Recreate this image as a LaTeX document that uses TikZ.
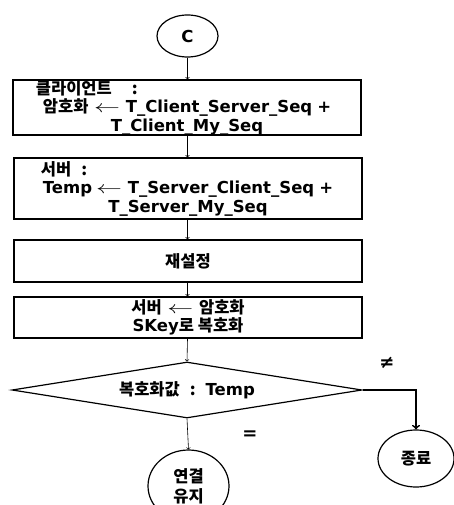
\documentclass[tikz,border=0pt]{standalone}
\usepackage{fontspec}
\usepackage{calc}
\setmainfont{DejaVu Sans}
\newfontfamily\kr{Noto Sans CJK KR}
\usetikzlibrary{shapes.geometric, arrows, positioning}
\tikzset{
  caja/.style={rectangle, draw, line width=1.6pt, minimum width=348pt, inner sep=0pt,
               font=\fontsize{16.5}{18.5}\selectfont\bfseries, align=center},
  conector/.style={ellipse, draw, line width=1.2pt, inner sep=0pt,
                   font=\fontsize{16.5}{20}\selectfont\bfseries, align=center},
  decision/.style={diamond, draw, line width=1.2pt, inner sep=0pt, aspect=6.25,
                   minimum width=350pt, minimum height=56pt,
                   font=\fontsize{16.5}{20}\selectfont\bfseries},
  flecha/.style={->, >=to, line width=0.6pt},
  flechagruesa/.style={->, >=to, line width=1.8pt},
  signo/.style={font=\fontsize{18}{18}\selectfont\bfseries}
}
\newcommand{\izq}{\scalebox{1.5}[1]{$\leftarrow$}}

\begin{document}
\begin{tikzpicture}[x=1pt, y=-1pt]
  \useasboundingbox (0,0) rectangle (454,505);
  % Inicio del tramo
  \node (inicio) [conector, minimum width=61pt, minimum height=42pt] at (187.5,36) {C};
  \node (cliente) [caja, minimum height=55pt] at (187,107.5)
    {\makebox[\widthof{{\kr 암호화} \izq{} T\_Client\_Server\_Seq\hspace{5pt}+}+14pt][l]{{\kr 클라이언트\hspace{20pt}:}}\\
     {\kr 암호화} \izq{} T\_Client\_Server\_Seq\hspace{5pt}+\\ T\_Client\_My\_Seq};
  \node (servidor) [caja, minimum height=61pt] at (188,188.5)
    {\makebox[\widthof{Temp\hspace{4pt}\izq{} T\_Server\_Client\_Seq\hspace{5pt}+}+4pt][l]{{\kr 서버\hspace{10pt}:}}\\
     Temp\hspace{4pt}\izq{} T\_Server\_Client\_Seq\hspace{5pt}+\\ T\_Server\_My\_Seq};
  \node (reinicio) [caja, minimum height=42pt] at (188,261) {{\kr 재설정}};
  \node (descifra) [caja, minimum height=41pt] at (188,317.5)
    {{\kr 서버} \izq{} {\kr 암호화}\\ SKey{\kr 로 복호화}};
  \node (compara) [decision] at (187,390) {{\kr 복호화값\hspace{10pt}:}\hspace{10pt}Temp};
  % Salidas de la comparacion
  \node (mantener) [conector, minimum width=81pt, minimum height=72pt] at (188.5,486) {{\kr 연결}\\ {\kr 유지}};
  \node (fin) [conector, minimum width=76pt, minimum height=57pt] at (416,458.5) {{\kr 종료}};
  \node (distinto) [signo] at (387,363) {≠};
  \node (igual) [signo] at (250,435) {=};
  \draw [flecha] (inicio.south) -- (inicio.south |- cliente.north);
  \draw [flecha] (cliente.south -| inicio.south) -- (inicio.south |- servidor.north);
  \draw [flecha] (servidor.south -| inicio.south) -- (inicio.south |- reinicio.north);
  \draw [flecha] (reinicio.south -| inicio.south) -- (inicio.south |- descifra.north);
  \draw [flecha] (descifra.south -| inicio.south) -- (compara.north);
  \draw [flecha] (compara.south) -- (mantener.north);
  \draw [flechagruesa] (compara.east) -| (fin.north);
\end{tikzpicture}
\end{document}
